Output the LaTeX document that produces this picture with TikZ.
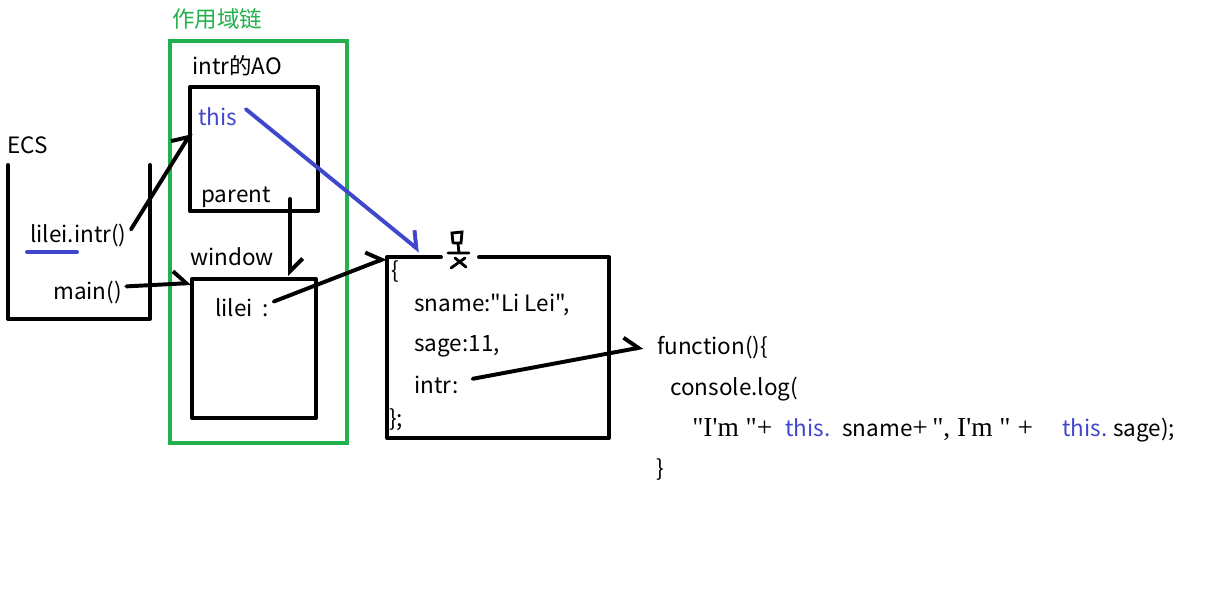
\documentclass[tikz,border=0pt]{standalone}
\usepackage{fontspec}
\setmainfont{Noto Sans CJK SC}[Ligatures=TeXOff]
\newfontfamily\quotefont{Liberation Serif}[Ligatures=TeXOff]
\usetikzlibrary{arrows.meta}
\definecolor{paintgreen}{RGB}{34,177,76}
\definecolor{paintblue}{RGB}{63,72,204}
\tikzset{
  txt/.style={anchor=base west, inner sep=0pt, font=\fontsize{16}{19}\selectfont},
  serif txt/.style={txt, font=\quotefont\fontsize{19.5}{23}\selectfont},
  pen/.style={line width=2.8pt, line cap=round, line join=round},
  barb/.style={pen, -{Straight Barb[left, length=9pt, width=18pt]}}
}
\begin{document}
\begin{tikzpicture}[x=0.025cm, y=-0.025cm]
\useasboundingbox (0,0) rectangle (1218,608);

% scope chain
\node[txt, paintgreen] (chain) at (172,27) {作用域链};
\draw[line width=2.8pt, paintgreen] (170,41) rectangle (347,443);

% AO of intr
\node[txt] (aolabel) at (192,74) {intr的AO};
\draw[pen] (190,87) rectangle (318,211);
\node[txt, paintblue] (this) at (198,125) {this};
\node[txt] (parent) at (201,202) {parent};

% window
\node[txt] (window) at (190,265) {window};
\draw[pen] (192,279) rectangle (316,418);
\node[txt] (lileivar) at (215,316) {lilei\ \ :};

% ECS stack
\node[txt] (ecs) at (7,153) {ECS};
\draw[pen] (8,165) -- (8,319) -- (150,319) -- (150,165);
\node[txt] (callintr) at (30,242) {lilei.intr()};
\draw[pen, paintblue] (27,252) -- (77,252);
\node[txt] (callmain) at (53,299) {main()};

% object
\draw[pen] (441,257) -- (387,257) -- (387,438) -- (609,438) -- (609,257) -- (479,257);
\draw[line width=2pt, line cap=round] (453,243) -- (452,233) -- (462,232) -- (461,243) -- (453,243)
  (458,243) -- (459,253) (448,253) -- (469,253)
  (455,258) -- (466,267) (465,258) -- (451,268);
\node[txt] (objopen) at (391,278) {\{};
\node[txt] (sname) at (414,311) {sname:"Li Lei",};
\node[txt] (sage) at (414,351) {sage:11,};
\node[txt] (intrkey) at (414,393) {intr:};
\node[txt] (objclose) at (389,426) {\};};

% function
\node[txt] (fnhead) at (657,354) {function()\{};
\node[txt] (fnlog) at (670,395) {console.log(};
\node[serif txt] (argim) at (692,436) {"I'm "+};
\node[txt, paintblue] (argthis) at (785,436) {this.};
\node[txt] (argname) at (842,436) {sname};
\node[serif txt] (argmid) at (912,436) {+\,",\ I'm\ "\ +};
\node[txt, paintblue] (argthisb) at (1062,436) {this.};
\node[txt] (argage) at (1113,436) {sage);};
\node[txt] (fnclose) at (656,476) {\}};

% pointer ends
\coordinate (aothis) at (191,133);
\coordinate (wintop) at (191,283);
\coordinate (parentptr) at (290,199);
\coordinate (winptr) at (290,276);
\coordinate (objtop) at (386,258);
\coordinate (objthis) at (420,251);
\coordinate (fnstart) at (643,347);

\draw[barb] ([xshift=3pt, yshift=4pt]callintr.east) -- (aothis);
\draw[barb] ([xshift=3pt, yshift=4pt]callmain.east) -- (wintop);
\draw[barb] (parentptr) -- (winptr);
\draw[barb] ([xshift=3pt, yshift=4pt]lileivar.east) -- (objtop);
\draw[barb, paintblue] ([xshift=6pt, yshift=5pt]this.east) -- (objthis);
\draw[barb] ([xshift=10pt, yshift=4pt]intrkey.east) -- (fnstart);
\end{tikzpicture}
\end{document}
